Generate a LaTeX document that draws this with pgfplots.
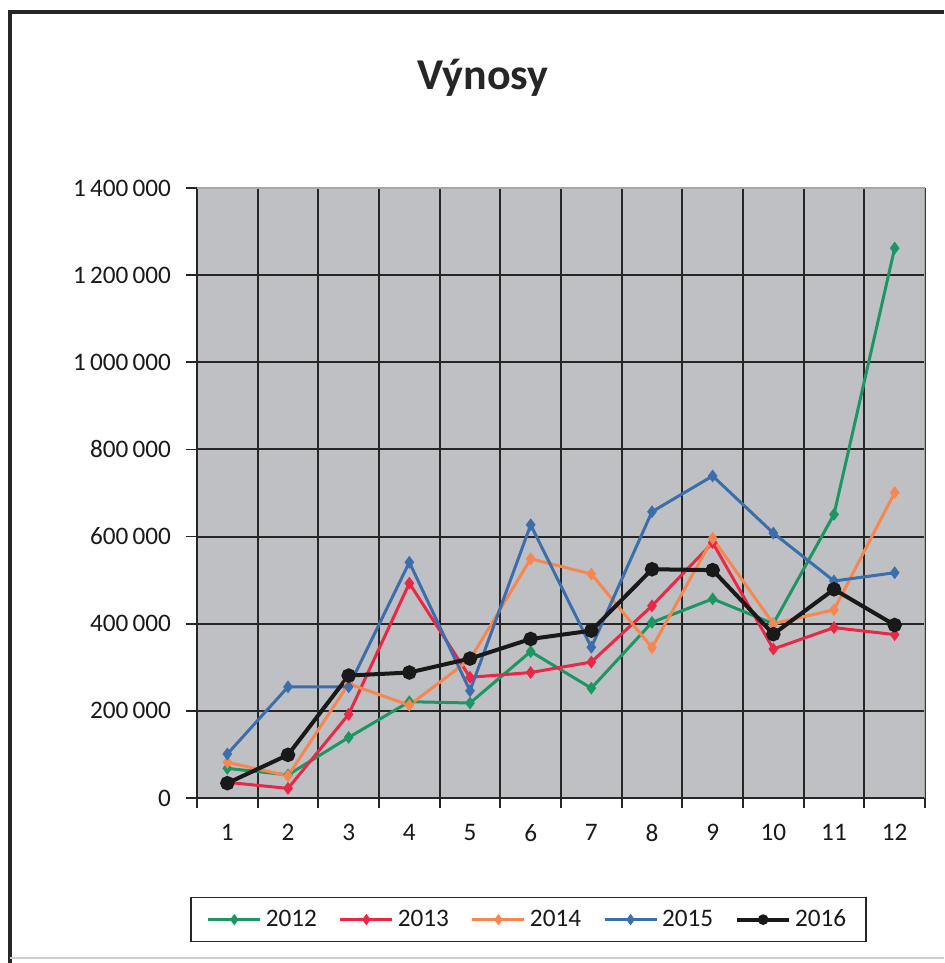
\documentclass[border=0pt]{standalone}
\usepackage{pgfplots}
\pgfplotsset{compat=1.18}
\usepackage{fontspec}
\setmainfont{Carlito}
\definecolor{c12}{RGB}{30,150,100}
\definecolor{c13}{RGB}{232,40,70}
\definecolor{c14}{RGB}{246,135,80}
\definecolor{c15}{RGB}{60,110,172}
\definecolor{plotbg}{RGB}{191,192,196}
\begin{document}
\begin{tikzpicture}
\path[use as bounding box] (0,0) rectangle (472pt,481.5pt);
\draw[line width=2pt,black!85] (4.75pt,0pt) -- (4.75pt,475.5pt) -- (472pt,475.5pt);
\draw[line width=0.6pt,black!20] (4.75pt,2.5pt) -- (472pt,2.5pt);
\node[font=\fontsize{22}{26}\selectfont\bfseries, text=black!85] at (241.5pt,442.5pt) {Výnosy};
\begin{axis}[
  at={(98.5pt,82.5pt)}, anchor=south west,
  scale only axis, width=364pt, height=305pt,
  xmin=0.5, xmax=12.5, ymin=0, ymax=1400000,
  axis background/.style={fill=plotbg},
  axis x line*=bottom, axis y line*=left,
  axis line style={line width=0.9pt, black!85, -},
  xtick={1,...,12},
  major x tick style={draw=none},
  minor xtick={0.5,1.5,...,12.5},
  minor x tick style={line width=0.9pt, black!85},
  minor tick length=5pt,
  x grid style={line width=1pt, black!85},
  minor x grid style={line width=1pt, black!85},
  xminorgrids=true,
  ytick={0,200000,...,1400000},
  ymajorgrids=true,
  y grid style={line width=1pt, black!85},
  major y tick style={line width=0.9pt, black!85},
  major tick length=5.5pt,
  tick align=outside,
  scaled y ticks=false,
  /pgf/number format/assume math mode=true,
  yticklabel={\pgfmathprintnumber[fixed,1000 sep={\,}]{\tick}},
  tick label style={font=\fontsize{12.6}{15}\selectfont, text=black!90},
  yticklabel style={xshift=-4pt},
  xticklabel style={yshift=-4pt},
  legend columns=5,
  legend style={at={(-0.0096,-0.162)}, anchor=north west, draw=black!85, line width=0.8pt,
    font=\fontsize{12.6}{15}\selectfont, text=black!90, inner xsep=8pt, inner ysep=4pt,
    /tikz/every even column/.append style={column sep=9pt}},
  legend image code/.code={\draw[mark repeat=2,mark phase=2,#1,mark size=1.6pt] plot coordinates {(0pt,0pt) (13pt,0pt) (26pt,0pt)};},
  legend cell align=left,
]
\addplot[c12, line width=1.5pt, mark=diamond*, mark size=2pt] coordinates {
(1,68000) (2,53000) (3,139000) (4,221000) (5,218000) (6,336000) (7,252000) (8,403000) (9,457000) (10,400000) (11,651000) (12,1262000)};
\addlegendentry{2012}
\addplot[c13, line width=1.5pt, mark=diamond*, mark size=2pt] coordinates {
(1,36000) (2,22000) (3,192000) (4,493000) (5,277000) (6,288000) (7,312000) (8,441000) (9,586000) (10,342000) (11,391000) (12,375000)};
\addlegendentry{2013}
\addplot[c14, line width=1.5pt, mark=diamond*, mark size=2pt] coordinates {
(1,82000) (2,51000) (3,262000) (4,213000) (5,318000) (6,549000) (7,514000) (8,345000) (9,596000) (10,400000) (11,432000) (12,701000)};
\addlegendentry{2014}
\addplot[c15, line width=1.5pt, mark=diamond*, mark size=2pt] coordinates {
(1,101000) (2,255000) (3,255000) (4,541000) (5,246000) (6,627000) (7,346000) (8,657000) (9,739000) (10,608000) (11,498000) (12,517000)};
\addlegendentry{2015}
\addplot[black!90, line width=2pt, mark=*, mark size=2.6pt] coordinates {
(1,34000) (2,99000) (3,281000) (4,288000) (5,320000) (6,365000) (7,384000) (8,525000) (9,523000) (10,376000) (11,479000) (12,397000)};
\addlegendentry{2016}
\draw[line width=0.8pt, black!35] (rel axis cs:0,1) -- (rel axis cs:1,1) -- (rel axis cs:1,0);
\end{axis}
\end{tikzpicture}
\end{document}
